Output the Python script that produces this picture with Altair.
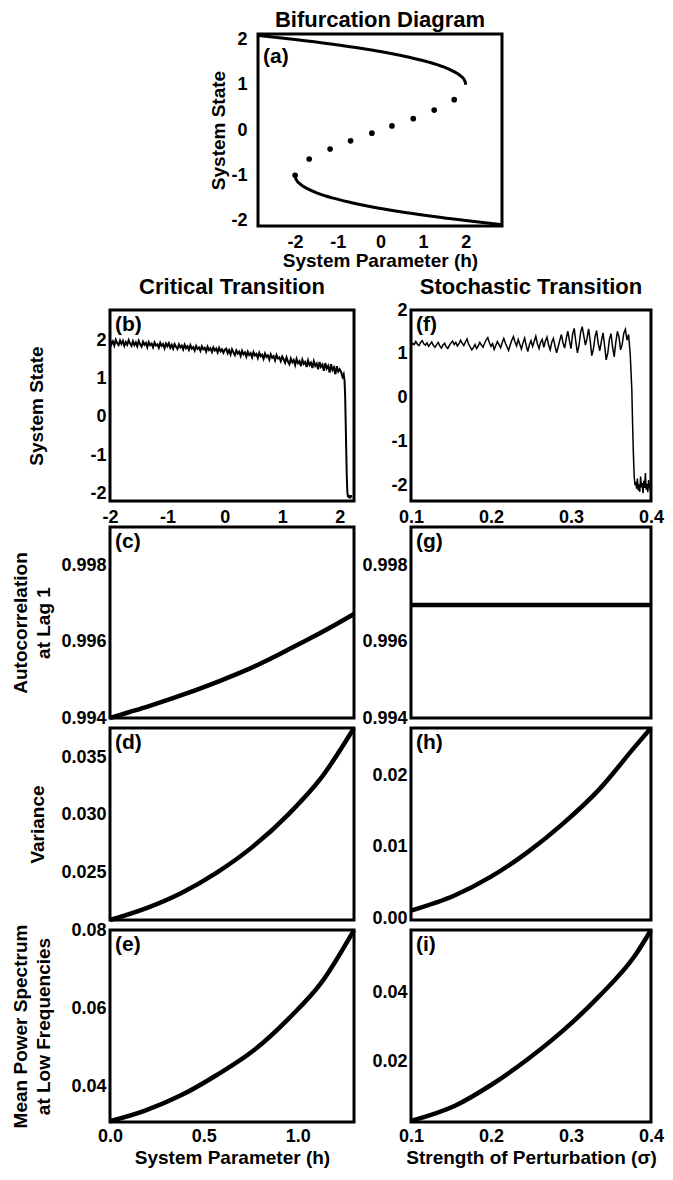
import altair as alt
import pandas as pd

FONT = "Liberation Sans"
W_L, W_R = 244, 240
COL_GAP = 57
A_SHIFT = 148  # panel (a) sits centred above the two columns
HYPHEN = "(datum.value < 0 ? '-' : '') + abs(datum.value)"

# ---------------- (a) bifurcation diagram ----------------
a_x_domain = [-2.87, 2.85]
a_y_domain = [-2.12, 2.12]
a_upper_h = [-2.86, -2.0, -1.16, -0.43, 0.19, 0.70, 1.13, 1.46, 1.70, 1.87, 1.97, 1.99, 2.0]
a_upper_s = [2.09, 2.0, 1.9, 1.8, 1.7, 1.6, 1.5, 1.4, 1.3, 1.2, 1.1, 1.05, 1.0]
a_lower_h = [-2.0, -1.99, -1.97, -1.87, -1.70, -1.46, -1.13, -0.70, -0.19, 0.43, 1.16, 2.0, 2.86]
a_lower_s = [-1.0, -1.05, -1.1, -1.2, -1.3, -1.4, -1.5, -1.6, -1.7, -1.8, -1.9, -2.0, -2.09]
a_dot_h = [-2.0, -1.67, -1.18, -0.70, -0.20, 0.27, 0.77, 1.26, 1.73]
a_dot_s = [-1.0, -0.64, -0.42, -0.24, -0.07, 0.09, 0.25, 0.44, 0.67]
ticks_pm2 = [-2, -1, 0, 1, 2]

# ---------------- (b) critical transition time series ----------------
b_x_domain = [-2.0, 2.25]
b_y_domain = [-2.2, 2.8]
b_state_main = [
    2.01, 1.90, 1.98, 1.87, 2.02, 1.93, 1.88, 2.00, 1.91, 1.99, 1.86, 1.96, 1.89, 2.01, 1.92, 1.86, 1.98, 1.88, 1.95, 1.85,
    1.99, 1.90, 1.84, 1.97, 1.89, 1.94, 1.83, 1.96, 1.88, 1.92, 1.82, 1.95, 1.87, 1.90, 1.81, 1.94, 1.86, 1.91, 1.80, 1.92, 1.85,
    1.93, 1.81, 1.89, 1.79, 1.91, 1.84, 1.78, 1.90, 1.82, 1.87, 1.77, 1.89, 1.80, 1.85, 1.76, 1.88, 1.79, 1.83, 1.74, 1.86,
    1.78, 1.82, 1.73, 1.85, 1.77, 1.81, 1.71, 1.84, 1.75, 1.80, 1.70, 1.82, 1.74, 1.79, 1.69, 1.81, 1.72, 1.77, 1.68, 1.76,
    1.79, 1.67, 1.75, 1.64, 1.77, 1.69, 1.62, 1.74, 1.66, 1.71, 1.60, 1.73, 1.64, 1.69, 1.58, 1.71, 1.62, 1.67, 1.56, 1.70,
    1.61, 1.65, 1.54, 1.68, 1.59, 1.63, 1.52, 1.66, 1.57, 1.61, 1.50, 1.64, 1.55, 1.59, 1.48, 1.62, 1.53, 1.56, 1.46, 1.58,
    1.51, 1.42, 1.56, 1.45, 1.38, 1.53, 1.43, 1.49, 1.36, 1.52, 1.41, 1.46, 1.33, 1.50, 1.39, 1.44, 1.31, 1.48, 1.36, 1.42,
    1.28, 1.46, 1.34, 1.40, 1.25, 1.44, 1.31, 1.37, 1.21, 1.41, 1.27, 1.34, 1.16, 1.38, 1.23, 1.30, 1.12, 1.33, 1.19, 1.25,
]
b_h_main = [round(-2.0 + 0.025 * i, 3) for i in range(len(b_state_main))]
b_h_tail = [2.025, 2.05, 2.07, 2.085, 2.095, 2.105, 2.115, 2.125, 2.135, 2.145, 2.155, 2.165, 2.175, 2.185, 2.195, 2.205]
b_state_tail = [1.18, 1.05, 1.12, 0.95, 0.6, -0.1, -0.9, -1.6, -1.98, -2.10, -2.04, -2.12, -2.06, -2.13, -2.05, -2.10]

# ---------------- (f) stochastic transition time series ----------------
f_x_domain = [0.1, 0.4]
f_y_domain = [-2.36, 2.0]
f_state_main = [
    1.18, 1.24, 1.21, 1.28, 1.22, 1.19, 1.26, 1.30, 1.23, 1.20, 1.25, 1.17, 1.22, 1.27, 1.19, 1.15, 1.21, 1.26, 1.18, 1.13,
    1.20, 1.24, 1.16, 1.12, 1.19, 1.25, 1.29, 1.21, 1.26, 1.18, 1.23, 1.31, 1.24, 1.19, 1.27, 1.34, 1.22, 1.16, 1.09, 1.14,
    1.21, 1.12, 1.18, 1.26, 1.20, 1.15, 1.24, 1.32, 1.37, 1.25,
    1.17, 1.23, 1.10, 1.19, 1.28, 1.21, 1.14, 1.26, 1.35, 1.24, 1.16, 1.08, 1.20, 1.31, 1.39, 1.27, 1.18, 1.33, 1.22, 1.11,
    1.25, 1.36, 1.19, 1.05, 1.21, 1.30, 1.17, 1.28, 1.40, 1.23, 1.12, 1.26, 1.33, 1.15, 1.29, 1.38, 1.20, 1.09, 1.27, 1.35,
    1.18, 1.02, 1.16, 1.31, 1.44, 1.25, 1.13, 1.34, 1.52, 1.30,
    1.12, 1.45, 1.58, 1.28, 1.02, 1.19, 1.49, 1.62, 1.41, 1.20, 1.35, 1.57, 1.30, 0.96, 1.11, 1.38, 1.53, 1.24, 1.07, 1.29,
    1.48, 1.19, 0.86, 1.02, 1.33, 1.46, 1.15, 0.93, 1.26, 1.51, 1.38, 1.09, 1.22, 1.47, 1.56, 1.31, 1.44,
]
f_s_main = [round(0.1 + 0.002 * i, 4) for i in range(len(f_state_main))]
f_s_tail = [0.374, 0.376, 0.377, 0.378, 0.379, 0.380, 0.381, 0.382, 0.383, 0.384, 0.385, 0.386, 0.387, 0.388,
            0.389, 0.390, 0.391, 0.392, 0.393, 0.394, 0.395, 0.396, 0.397, 0.398, 0.399, 0.400]
f_state_tail = [1.0, 0.2, -0.6, -1.3, -1.8, -2.0, -1.92, -2.08, -1.85, -2.12, -1.98, -2.15, -1.80, -2.05,
                -1.95, -2.18, -1.90, -2.06, -1.72, -2.10, -1.97, -2.16, -1.88, -2.03, -2.11, -1.93]

# ---------------- indicators vs h (c, d, e) ----------------
h_domain = [0.0, 1.3]
c_h = [0.0, 0.1, 0.2, 0.3, 0.4, 0.5, 0.6, 0.7, 0.8, 0.9, 1.0, 1.1, 1.2, 1.3]
c_ac = [0.99400, 0.99415, 0.99430, 0.99446, 0.99463, 0.99481, 0.99500, 0.99520, 0.99542, 0.99566,
        0.99592, 0.99617, 0.99644, 0.99672]
c_y_domain = [0.994, 0.999]
ac_ticks = [0.994, 0.996, 0.998]

d_h = [0.0, 0.187, 0.378, 0.569, 0.761, 0.952, 1.125, 1.3]
d_var = [0.0208, 0.0218, 0.02315, 0.02495, 0.02722, 0.03007, 0.03323, 0.0376]
d_y_domain = [0.0208, 0.0376]
d_ticks = [0.025, 0.030, 0.035]

e_h = [0.0, 0.187, 0.378, 0.569, 0.761, 0.952, 1.125, 1.3]
e_pow = [0.0312, 0.0339, 0.0378, 0.0430, 0.0491, 0.0574, 0.0665, 0.0800]
e_y_domain = [0.031, 0.080]
e_ticks = [0.04, 0.06, 0.08]
e_x_ticks = [0.0, 0.5, 1.0]

# ---------------- indicators vs sigma (g, h, i) ----------------
g_s = [0.1, 0.4]
g_ac = [0.99696, 0.99696]

h_s = [0.1, 0.155, 0.2, 0.245, 0.29, 0.335, 0.38, 0.4]
h_var = [0.0011, 0.00325, 0.00585, 0.0092, 0.01325, 0.0180, 0.0240, 0.0266]
h_y_domain = [-0.0002, 0.0266]
h_ticks = [0.0, 0.01, 0.02]

i_s = [0.1, 0.155, 0.2, 0.245, 0.29, 0.335, 0.38, 0.4]
i_pow = [0.0028, 0.0072, 0.0132, 0.0205, 0.0289, 0.0388, 0.0506, 0.0580]
i_y_domain = [0.0025, 0.058]
i_ticks = [0.02, 0.04]
s_ticks = [0.1, 0.2, 0.3, 0.4]


def sc(dom):
    return alt.Scale(domain=dom, nice=False, zero=False)


class Panel:
    def __init__(self, xdom, ydom, xaxis, yaxis, shift=0):
        self.xdom, self.ydom, self.xaxis, self.yaxis, self.shift = xdom, ydom, xaxis, yaxis, shift

    def enc(self):
        return dict(
            x=alt.X("x:Q", scale=sc(self.xdom), axis=self.xaxis),
            y=alt.Y("y:Q", scale=sc(self.ydom), axis=self.yaxis),
        )

    def line(self, xs, ys, sw, interp="monotone"):
        df = pd.DataFrame({"x": xs, "y": ys, "i": list(range(len(xs)))})
        kw = {"xOffset": self.shift} if self.shift else {}
        return alt.Chart(df).mark_line(color="black", strokeWidth=sw, interpolate=interp, **kw).encode(
            order="i:Q", **self.enc())

    def dots(self, xs, ys, size):
        df = pd.DataFrame({"x": xs, "y": ys})
        kw = {"xOffset": self.shift} if self.shift else {}
        return alt.Chart(df).mark_circle(color="black", size=size, opacity=1, **kw).encode(**self.enc())

    def tag(self, text, dy=4):
        df = pd.DataFrame({"x": [self.xdom[0]], "y": [self.ydom[1]], "t": [text]})
        return alt.Chart(df).mark_text(
            align="left", baseline="top", dx=5 + self.shift, dy=dy, font=FONT, fontSize=21,
            fontWeight="bold", color="black"
        ).encode(text="t:N", **self.enc())

    def frame(self):
        df = pd.DataFrame({"x": [self.xdom[0]], "x2": [self.xdom[1]], "y": [self.ydom[0]], "y2": [self.ydom[1]]})
        return alt.Chart(df).mark_rect(
            fillOpacity=0, stroke="black", strokeWidth=3, xOffset=self.shift, x2Offset=self.shift
        ).encode(x2="x2:Q", y2="y2:Q", **self.enc())


def yleft(values, fmt, title, tx, h, pad=4, offset=0, expr=None):
    kw = {"labelExpr": expr} if expr else {}
    return alt.Axis(values=values, format=fmt, title=title, labelPadding=pad, titleX=tx, titleY=h / 2,
                    titleAngle=270, titleAlign="center", titleBaseline="middle", titleLineHeight=23,
                    offset=offset, **kw)


def yplain(values, fmt, pad=4, expr=None):
    kw = {"labelExpr": expr} if expr else {}
    return alt.Axis(values=values, format=fmt, title=None, labelPadding=pad, **kw)


def spacer(w, h):
    return alt.Chart(pd.DataFrame({"s": [0]})).mark_point(opacity=0).encode(
        x=alt.X("s:Q", axis=None), y=alt.Y("s:Q", axis=None)
    ).properties(width=w, height=h, view=alt.ViewBackground(strokeOpacity=0))


# (a)
HA = 192
pa = Panel(a_x_domain, a_y_domain,
           alt.Axis(values=ticks_pm2, format="d", labelExpr=HYPHEN, title="System Parameter (h)",
                    labelPadding=7, titlePadding=0, position=A_SHIFT),
           yleft(ticks_pm2, "d", "System State", -40, HA, pad=11, offset=-A_SHIFT, expr=HYPHEN),
           shift=A_SHIFT)
panel_a = alt.layer(
    pa.frame(),
    pa.line(a_upper_h, a_upper_s, 3),
    pa.line(a_lower_h, a_lower_s, 3),
    pa.dots(a_dot_h, a_dot_s, 32),
    pa.tag("(a)", dy=12),
).properties(width=W_L, height=HA, view=alt.ViewBackground(strokeOpacity=0),
             title=alt.Title("Bifurcation Diagram", offset=-3, dx=A_SHIFT))

# (b)
HB = 191
pb = Panel(b_x_domain, b_y_domain,
           alt.Axis(values=ticks_pm2, format="d", labelExpr=HYPHEN, title=None, labelPadding=7),
           yleft(ticks_pm2, "d", "System State", -74, HB, expr=HYPHEN))
panel_b = alt.layer(
    pb.line(b_h_main + b_h_tail, b_state_main + b_state_tail, 2.0, "linear"),
    pb.tag("(b)"),
).properties(width=W_L, height=HB, title=alt.Title("Critical Transition", offset=11))

# (f)
pf = Panel(f_x_domain, f_y_domain,
           alt.Axis(values=s_ticks, format=".1f", title=None, labelPadding=7),
           yplain(ticks_pm2, "d", expr=HYPHEN))
panel_f = alt.layer(
    pf.line(f_s_main + f_s_tail, f_state_main + f_state_tail, 1.5, "linear"),
    pf.tag("(f)"),
).properties(width=W_R, height=HB, title=alt.Title("Stochastic Transition", offset=2))

# (c)
HC = 191
pc = Panel(h_domain, c_y_domain, None, yleft(ac_ticks, ".3f", ["Autocorrelation", "at Lag 1"], -90, HC))
panel_c = alt.layer(pc.line(c_h, c_ac, 4.5), pc.tag("(c)")).properties(width=W_L, height=HC)

# (g)
pg = Panel(f_x_domain, c_y_domain, None, yplain(ac_ticks, ".3f"))
panel_g = alt.layer(pg.line(g_s, g_ac, 4.5, "linear"), pg.tag("(g)")).properties(width=W_R, height=HC)

# (d)
HD = 192
pd_ = Panel(h_domain, d_y_domain, None, yleft(d_ticks, ".3f", "Variance", -73, HD))
panel_d = alt.layer(pd_.line(d_h, d_var, 4.5), pd_.tag("(d)")).properties(width=W_L, height=HD)

# (h)
ph = Panel(f_x_domain, h_y_domain, None, yplain(h_ticks, ".2f"))
panel_h = alt.layer(ph.line(h_s, h_var, 4.5), ph.tag("(h)")).properties(width=W_R, height=HD)

# (e)
HE = 192
pe = Panel(h_domain, e_y_domain,
           alt.Axis(values=e_x_ticks, format=".1f", title="System Parameter (h)", labelPadding=5, titlePadding=3),
           yleft(e_ticks, ".2f", ["Mean Power Spectrum", "at Low Frequencies"], -90, HE))
panel_e = alt.layer(pe.line(e_h, e_pow, 4.5), pe.tag("(e)")).properties(width=W_L, height=HE)

# (i)
pi = Panel(f_x_domain, i_y_domain,
           alt.Axis(values=s_ticks, format=".1f", title="Strength of Perturbation (σ)", labelPadding=5,
                    titlePadding=3),
           yplain(i_ticks, ".2f"))
panel_i = alt.layer(pi.line(i_s, i_pow, 4.5), pi.tag("(i)")).properties(width=W_R, height=HE)

chart = alt.concat(
    panel_a, spacer(1, HA),
    spacer(1, 64), spacer(1, 64),
    panel_b, panel_f,
    spacer(1, 6), spacer(1, 6),
    panel_c, panel_g,
    panel_d, panel_h,
    panel_e, panel_i,
    columns=2,
    spacing={"row": 10, "column": COL_GAP},
    align={"row": "each", "column": "each"},
    bounds="flush",
).properties(
    autosize=alt.AutoSizeParams(type="none"),
    padding={"left": 102, "top": 26, "right": 555, "bottom": 1138},
).configure_view(
    stroke="black", strokeWidth=3
).configure_axis(
    domain=False, ticks=False, tickSize=0, grid=False, labelFlush=False, labelOverlap=False,
    labelFont=FONT, labelFontSize=18, labelFontWeight="bold", labelColor="black",
    titleFont=FONT, titleFontSize=19, titleFontWeight="bold", titleColor="black",
).configure_title(
    font=FONT, fontSize=22, fontWeight="bold", color="black", anchor="middle"
)

chart.save("out.html", embed_options={"renderer": "svg", "actions": False})
